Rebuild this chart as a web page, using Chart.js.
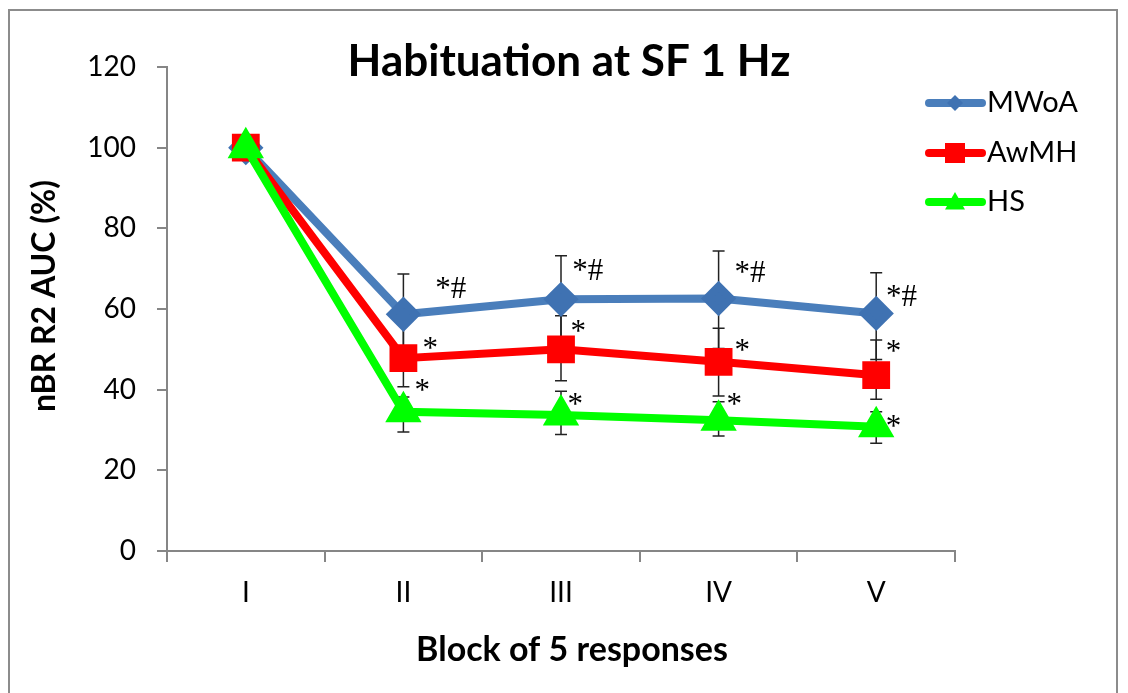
<!DOCTYPE html>
<html>
<head>
<meta charset="utf-8">
<script src="https://cdn.jsdelivr.net/npm/chart.js@4.4.1/dist/chart.umd.min.js"></script>
<style>
  html, body { margin: 0; padding: 0; background: #fff; }
  #wrap { width: 1128px; height: 693px; }
</style>
</head>
<body>
<div id="wrap"><canvas id="habChart" width="1128" height="693"></canvas></div>
<script>
const blocks = ['I', 'II', 'III', 'IV', 'V'];
const seriesNames = ['MWoA', 'AwMH', 'HS'];

const mwoa = [100, 58.7, 62.4, 62.6, 58.9];
const mwoaErrUp = [0, 10, 10.8, 11.8, 10.1];
const mwoaErrDown = [0, 10, 10.8, 12.4, 11.4];

const awmh = [100, 47.8, 50.0, 46.9, 43.6];
const awmhErrUp = [0, 9, 8.3, 8.3, 8.7];
const awmhErrDown = [0, 7.1, 7.8, 8.5, 6.0];

const hs = [100, 34.5, 33.7, 32.4, 30.8];
const hsErrUp = [0, 3.7, 5.9, 4.6, 3.7];
const hsErrDown = [0, 5.0, 4.8, 3.9, 4.1];

// significance marks: text, category position (index), y value
const markText = ['*#', '*#', '*#', '*#', '*', '*', '*', '*', '*', '*', '*', '*'];
const markX = [1.30, 2.17, 3.20, 4.16, 1.17, 2.11, 3.15, 4.11, 1.12, 2.09, 3.10, 4.11];
const markY = [66.5, 70.9, 70.4, 64.5, 51.6, 55.8, 51.1, 50.8, 41.2, 37.7, 37.7, 32.3];

const axisGray = '#868686';
const sansFont = 'Lato, "DejaVu Sans", sans-serif';

// error bars go under the lines and markers
const errorBars = {
    id: 'errorBars',
    beforeDatasetsDraw(chart) {
        const ctx = chart.ctx;
        const y = chart.scales.y;
        ctx.save();
        ctx.strokeStyle = '#222';
        ctx.lineWidth = 1.5;
        chart.data.datasets.forEach((ds, di) => {
            const meta = chart.getDatasetMeta(di);
            meta.data.forEach((pt, i) => {
                const up = ds.errUp[i], down = ds.errDown[i];
                if (!up && !down) return;
                const top = y.getPixelForValue(ds.data[i] + up);
                const bot = y.getPixelForValue(ds.data[i] - down);
                ctx.beginPath();
                ctx.moveTo(pt.x, top); ctx.lineTo(pt.x, bot);
                ctx.moveTo(pt.x - 6, top); ctx.lineTo(pt.x + 6, top);
                ctx.moveTo(pt.x - 6, bot); ctx.lineTo(pt.x + 6, bot);
                ctx.stroke();
            });
        });
        ctx.restore();
    }
};

function drawMarker(ctx, style, color, x, y, r) {
    ctx.fillStyle = color;
    ctx.beginPath();
    if (style === 'rectRot') {
        ctx.moveTo(x, y - r); ctx.lineTo(x + r, y); ctx.lineTo(x, y + r); ctx.lineTo(x - r, y);
    } else if (style === 'rect') {
        ctx.rect(x - r, y - r, 2 * r, 2 * r);
    } else {
        ctx.moveTo(x, y - r); ctx.lineTo(x + r, y + r * 0.75); ctx.lineTo(x - r, y + r * 0.75);
    }
    ctx.closePath();
    ctx.fill();
}

const decorations = {
    id: 'decorations',
    beforeDraw(chart) {
        const ctx = chart.ctx;
        ctx.save();
        ctx.fillStyle = '#fff';
        ctx.fillRect(0, 0, chart.width, chart.height);
        ctx.strokeStyle = '#8c8c8c';
        ctx.lineWidth = 2;
        ctx.strokeRect(9, 10, 1108, 720);
        ctx.restore();
    },
    afterDraw(chart) {
        const ctx = chart.ctx;
        const xs = chart.scales.x, ys = chart.scales.y;
        ctx.save();
        ctx.fillStyle = '#000';
        ctx.textAlign = 'center';
        ctx.textBaseline = 'middle';

        // title
        ctx.font = 'bold 44px ' + sansFont;
        ctx.fillText('Habituation at SF 1 Hz', 569, 62);

        // axis titles
        ctx.font = 'bold 34px ' + sansFont;
        ctx.fillText('Block of 5 responses', 572, 650);
        ctx.save();
        ctx.translate(45, 296);
        ctx.rotate(-Math.PI / 2);
        ctx.font = 'bold 32px ' + sansFont;
        ctx.fillText('nBR R2 AUC (%)', 0, 0);
        ctx.restore();

        // significance marks
        ctx.font = '31px "Liberation Serif", serif';
        markText.forEach((t, i) => {
            ctx.fillText(t, xs.getPixelForValue(markX[i]), ys.getPixelForValue(markY[i]) + 7);
        });

        // legend
        const legendY = [103, 153, 202];
        chart.data.datasets.forEach((ds, i) => {
            const ly = legendY[i];
            ctx.strokeStyle = ds.borderColor;
            ctx.lineWidth = 8;
            ctx.lineCap = 'round';
            ctx.beginPath();
            ctx.moveTo(929, ly); ctx.lineTo(982, ly);
            ctx.stroke();
            const r = ds.pointStyle === 'rectRot' ? 8 : 10;
            drawMarker(ctx, ds.pointStyle, ds.pointBackgroundColor, 955, ly, r);
            ctx.fillStyle = '#000';
            ctx.font = '29px ' + sansFont;
            ctx.textAlign = 'left';
            ctx.fillText(seriesNames[i], 987, ly);
            ctx.textAlign = 'center';
        });
        ctx.restore();
    }
};

new Chart(document.getElementById('habChart'), {
    type: 'line',
    data: {
        labels: blocks,
        datasets: [
            { label: seriesNames[0], data: mwoa, errUp: mwoaErrUp, errDown: mwoaErrDown,
              borderColor: '#4a7ebb', pointBackgroundColor: '#3f72b2', pointBorderColor: '#3f72b2',
              borderWidth: 8, pointStyle: 'rectRot', pointRadius: 12, order: 3 },
            { label: seriesNames[1], data: awmh, errUp: awmhErrUp, errDown: awmhErrDown,
              borderColor: '#ff0000', pointBackgroundColor: '#ff0000', pointBorderColor: '#ff0000',
              borderWidth: 8, pointStyle: 'rect', pointRadius: 14, order: 2 },
            { label: seriesNames[2], data: hs, errUp: hsErrUp, errDown: hsErrDown,
              borderColor: '#00ff00', pointBackgroundColor: '#00ff00', pointBorderColor: '#00ff00',
              borderWidth: 8, pointStyle: 'triangle', pointRadius: 13, order: 1 }
        ]
    },
    options: {
        responsive: false,
        animation: false,
        devicePixelRatio: 1,
        layout: { padding: { left: 0, right: 173, top: 67, bottom: 0 } },
        plugins: { legend: { display: false }, tooltip: { enabled: false } },
        scales: {
            x: {
                offset: true,
                grid: { offset: true, drawOnChartArea: false, color: axisGray, lineWidth: 2, tickLength: 11 },
                border: { color: axisGray, width: 2 },
                ticks: { color: '#000', font: { family: sansFont, size: 28 }, padding: 14 },
                afterFit: s => { s.height = 142; }
            },
            y: {
                min: 0, max: 120,
                grid: { drawOnChartArea: false, color: axisGray, lineWidth: 2, tickLength: 10 },
                border: { color: axisGray, width: 2 },
                ticks: { stepSize: 20, color: '#000', font: { family: sansFont, size: 28 }, padding: 21 },
                afterFit: s => { s.width = 167; }
            }
        }
    },
    plugins: [errorBars, decorations]
});
</script>
</body>
</html>
